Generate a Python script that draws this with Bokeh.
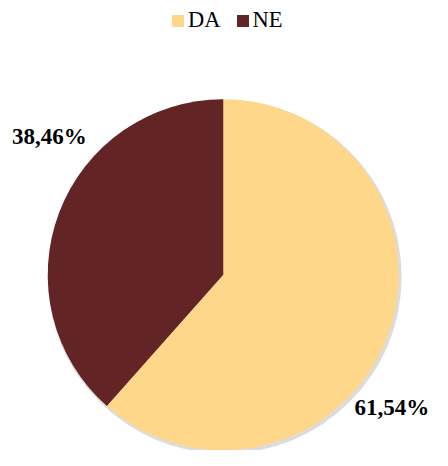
import math
from bokeh.plotting import figure
from bokeh.models import ColumnDataSource, Range1d
from bokeh.core.properties import value
from bokeh.embed import file_html
from bokeh.resources import INLINE

categories = ["DA", "NE"]
values = [61.54, 38.46]
colors = ["#FED78A", "#632426"]
label_texts = ["61,54%", "38,46%"]

W, H = 432, 450            # figure size in screen px
RW, RH = 448, 466          # coordinate frame (reference pixels)
CX, CY, R = 231, 182, 182  # pie centre / radius in that frame (y upward)

total = sum(values)
starts, ends = [], []
acc = 0.0
for v in values:
    a0 = math.pi / 2 - 2 * math.pi * acc / total
    acc += v
    a1 = math.pi / 2 - 2 * math.pi * acc / total
    starts.append(a1)
    ends.append(a0)

src = ColumnDataSource(dict(cat=categories, val=values, color=colors,
                            start=starts, end=ends,
                            x=[CX] * len(values), y=[CY] * len(values)))

p = figure(width=W, height=H, output_backend="svg", toolbar_location=None,
           x_range=Range1d(0, RW), y_range=Range1d(0, RH),
           min_border=0, outline_line_color=None)
p.axis.visible = False
p.grid.visible = False
p.background_fill_color = "white"

# soft shadow
p.circle(x=[CX + 1.5], y=[CY - 2], radius=R + 1.5, fill_color="#9a9a9a",
         fill_alpha=0.35, line_color=None)

p.wedge(x="x", y="y", radius=R, start_angle="start", end_angle="end",
        fill_color="color", line_color=None, source=src, legend_field="cat")

# data labels
lab_x = [367, 12]
lab_y = [45, 325]
p.text(x=lab_x, y=lab_y, text=label_texts, text_font=value("Liberation Serif"),
       text_font_style="bold", text_font_size="23px", text_color="#000000",
       text_baseline="middle", text_align="left")

leg = p.legend[0]
leg.orientation = "horizontal"
leg.location = (170, 417)
leg.padding = 0
leg.margin = 0
leg.spacing = 14
leg.glyph_width = 15
leg.glyph_height = 15
leg.label_standoff = 3
leg.label_text_font = "Liberation Serif"
leg.label_text_font_size = "22.5px"
leg.label_text_color = "#000000"
leg.border_line_color = None
leg.background_fill_alpha = 0

open("out.html", "w").write(file_html(p, INLINE))
